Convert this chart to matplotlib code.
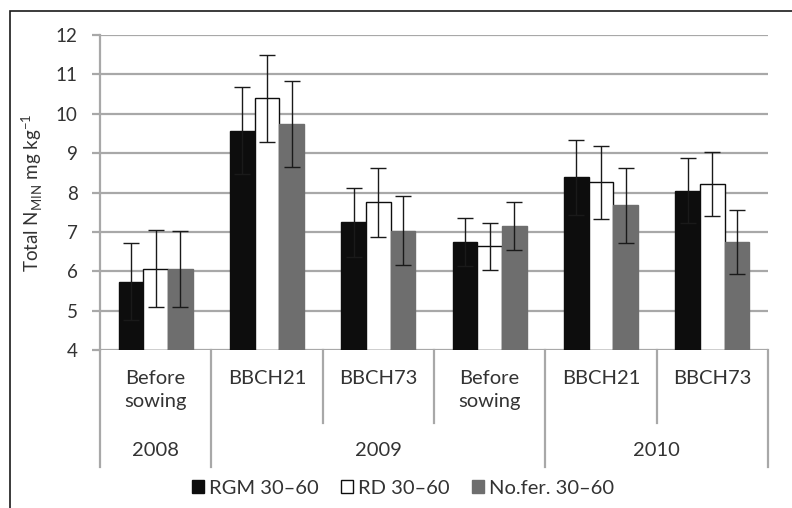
import matplotlib
matplotlib.use("Agg")
import matplotlib.pyplot as plt
import numpy as np
from matplotlib.patches import Rectangle

plt.rcParams['font.family'] = ['Lato', 'DejaVu Sans']

categories = ["Before\nsowing", "BBCH21", "BBCH73", "Before\nsowing", "BBCH21", "BBCH73"]
years = ["2008", "2009", "2010"]
year_spans = [(0, 1), (1, 4), (4, 6)]  # category index ranges [start, end)
series = ["RGM 30\u201360", "RD 30\u201360", "No.fer. 30\u201360"]
rgm = [5.73, 9.57, 7.24, 6.74, 8.39, 8.05]
rd = [6.06, 10.39, 7.75, 6.63, 8.26, 8.22]
nofer = [6.05, 9.74, 7.03, 7.15, 7.67, 6.74]
rgm_err = [0.98, 1.10, 0.88, 0.60, 0.95, 0.82]
rd_err = [0.98, 1.10, 0.88, 0.60, 0.93, 0.82]
nofer_err = [0.97, 1.08, 0.87, 0.60, 0.95, 0.82]
yticks = [4, 5, 6, 7, 8, 9, 10, 11, 12]

W, H = 792, 508
fig = plt.figure(figsize=(W / 100, H / 100), dpi=100)
ax = fig.add_axes([100 / W, 1 - 350 / H, (768 - 100) / W, (350 - 35) / H])

# outer frame
fig.patches.append(Rectangle((10 / W, -0.1), 1.2, 1 - 11 / H + 0.1, transform=fig.transFigure,
                             fill=False, edgecolor='#1a1a1a', lw=1.2, zorder=0))

n = len(categories)
x = np.arange(n) + 0.5
bw = 1 / 4.5
colors = ['#0d0d0d', '#ffffff', '#6e6e6e']
vals = [rgm, rd, nofer]
errs = [rgm_err, rd_err, nofer_err]
for i, (v, e, c, lab) in enumerate(zip(vals, errs, colors, series)):
    xs = x + (i - 1) * bw
    ax.bar(xs, np.array(v) - 4, bottom=4, width=bw, color=c, edgecolor='#0d0d0d' if i < 2 else c,
           lw=1.0, label=lab, zorder=3)
    ax.errorbar(xs, v, yerr=e, fmt='none', ecolor='#1a1a1a', elinewidth=1.0, capsize=5.5,
                capthick=1.0, zorder=4)

ax.set_xlim(0, n)
ax.set_ylim(4, 12)
ax.set_yticks(yticks)
ax.yaxis.grid(True, color='#a8a8a8', lw=1.6, zorder=0)
ax.set_axisbelow(True)
for s in ['top', 'right', 'bottom']:
    ax.spines[s].set_visible(False)
ax.spines['left'].set_color('#a8a8a8')
ax.spines['left'].set_linewidth(1.6)
ax.tick_params(axis='y', length=6, width=1.6, color='#a8a8a8', labelsize=13.5,
               labelcolor='#333333', pad=10)
ax.set_xticks([])

ax.set_ylabel('Total N$_{\\mathregular{MIN}}$ mg kg$^{\\mathregular{-1}}$', fontsize=13.5,
              color='#333333', labelpad=8)

tr = ax.get_xaxis_transform()
ph = 350 - 35
short_y = -(423 - 350) / ph
long_y = -(467 - 350) / ph
year_bounds = set([s for s, e in year_spans] + [e for s, e in year_spans])
for b in range(n + 1):
    y1 = long_y if b in year_bounds else short_y
    ax.plot([b, b], [0, y1], transform=tr, color='#a8a8a8', lw=1.6, clip_on=False)

for xi, lab in zip(x, categories):
    ax.text(xi, -(370 - 350) / ph, lab, transform=tr, ha='center', va='top', fontsize=14.5,
            color='#333333', linespacing=1.4)
for (s, e), yr in zip(year_spans, years):
    ax.text((s + e) / 2, -(451 - 350) / ph, yr, transform=tr, ha='center', va='center',
            fontsize=14.5, color='#333333')

leg = fig.legend(loc='center', bbox_to_anchor=(403 / W, 1 - 488 / H), ncol=3, frameon=False,
                 fontsize=14.5, handlelength=0.6, handleheight=0.6, handletextpad=0.25,
                 columnspacing=1.1, labelcolor='#333333')

fig.savefig('out.png', dpi=100)
